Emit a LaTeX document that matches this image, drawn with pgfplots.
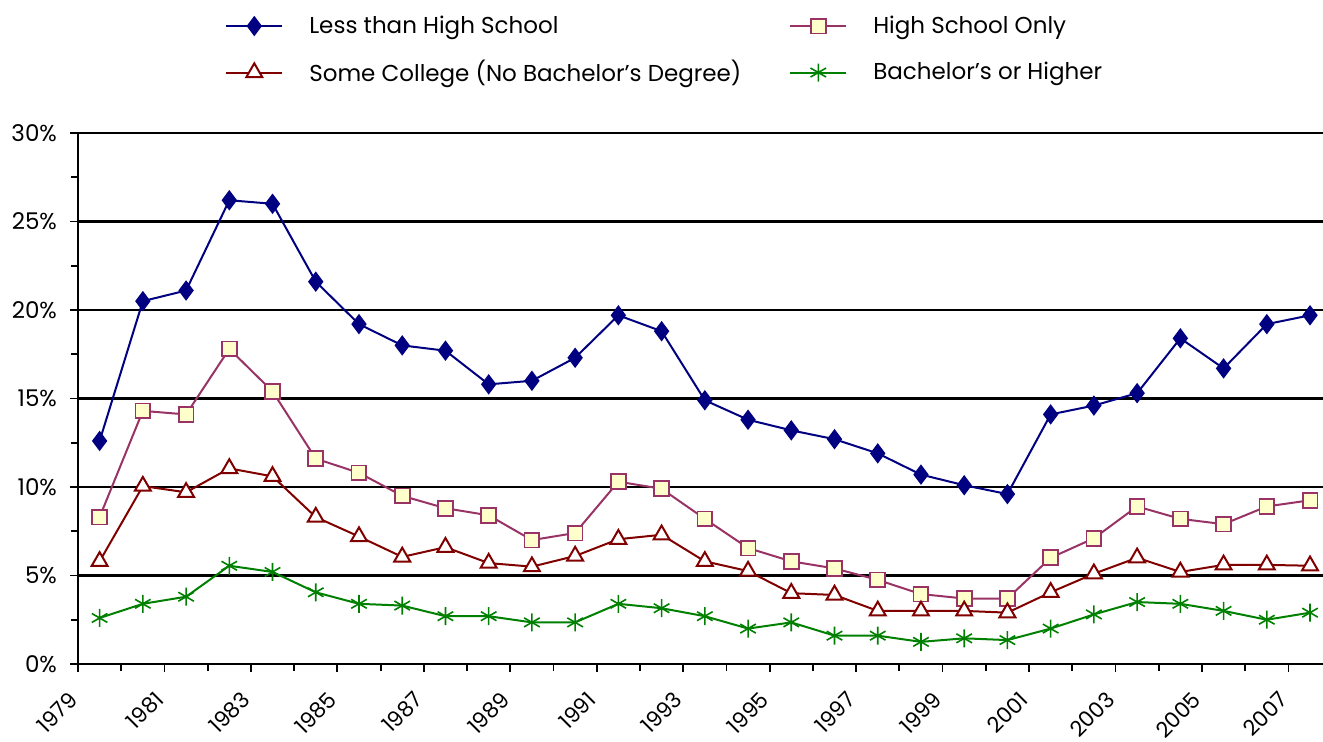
\documentclass[border=0pt]{standalone}
\usepackage{fontspec}
\setmainfont{Poppins}
\usepackage{pgfplots}
\usepackage{pgfplotstable}
\pgfplotsset{compat=1.18}
\definecolor{cblue}{HTML}{000080}
\definecolor{cpink}{HTML}{993366}
\definecolor{cfill}{HTML}{FFFFCC}
\definecolor{cred}{HTML}{800000}
\definecolor{cgreen}{HTML}{008000}

\pgfplotstableread{
x    lths hs   sc    ba
0.5  12.6 8.3  5.8   2.6
1.5  20.5 14.3 10.05 3.4
2.5  21.1 14.1 9.7   3.8
3.5  26.2 17.8 11.05 5.55
4.5  26.0 15.4 10.6  5.2
5.5  21.6 11.6 8.3   4.05
6.5  19.2 10.8 7.2   3.4
7.5  18.0 9.5  6.05  3.3
8.5  17.7 8.8  6.6   2.7
9.5  15.8 8.4  5.7   2.7
10.5 16.0 7.0  5.5   2.35
11.5 17.3 7.4  6.1   2.35
12.5 19.7 10.3 7.05  3.4
13.5 18.8 9.9  7.3   3.15
14.5 14.9 8.2  5.8   2.7
15.5 13.8 6.55 5.25  2.0
16.5 13.2 5.8  4.0   2.35
17.5 12.7 5.4  3.9   1.6
18.5 11.9 4.75 3.0   1.6
19.5 10.7 3.95 3.0   1.25
20.5 10.1 3.7  3.0   1.45
21.5 9.6  3.7  2.9   1.35
22.5 14.1 6.0  4.05  2.0
23.5 14.6 7.1  5.1   2.8
24.5 15.3 8.9  6.0   3.5
25.5 18.4 8.2  5.2   3.4
26.5 16.7 7.9  5.6   3.0
27.5 19.2 8.9  5.6   2.5
28.5 19.7 9.25 5.55  2.9
}\datatable

\begin{document}
\begin{tikzpicture}
\path[use as bounding box] (0,0) rectangle (661.5pt,371pt);
\begin{axis}[
  at={(39pt,39pt)}, anchor=south west,
  scale only axis, width=622.5pt, height=265.5pt,
  xmin=0, xmax=28.8, ymin=0, ymax=30,
  axis lines*=left,
  axis line style={line width=1.4pt},
  xtick={0,2,...,28},
  xticklabels={1979,1981,1983,1985,1987,1989,1991,1993,1995,1997,1999,2001,2003,2005,2007},
  minor xtick={1,3,...,27},
  ytick={0,5,...,30},
  minor ytick={2.5,7.5,...,27.5},
  yticklabel={\pgfmathprintnumber{\tick}\%},
  /pgf/number format/assume math mode=true,
  ymajorgrids,
  major grid style={black, line width=1.1pt},
  tick align=outside,
  major tick length=4pt, minor tick length=3.6pt,
  tick style={black, line width=0.9pt},
  ticklabel style={font=\fontsize{11.5}{13}\selectfont},
  yticklabel style={xshift=-3pt},
  xticklabel style={font=\fontsize{10.8}{12}\selectfont, yshift=-9.5pt, rotate=45, anchor=east},
  clip=false,
  legend columns=2,
  legend cell align=left,
  legend style={at={(0.118,1.229)}, anchor=north west, draw=none, fill=none,
    font=\fontsize{11.5}{14}\selectfont, inner sep=0pt, row sep=8pt,
    /tikz/every odd column/.append style={column sep=11pt}},
  legend image code/.code={\draw[mark repeat=2,mark phase=2,#1] plot coordinates {(0pt,0pt) (14pt,0pt) (28pt,0pt)};},
]
\addplot[cblue, line width=1pt, mark=diamond*, mark size=4.3pt, mark options={fill=cblue, solid}] table[x=x,y=lths] {\datatable};
\addlegendentry{\makebox[238pt][l]{Less than High School}}
\addplot[cpink, line width=1pt, mark=square*, mark size=3.7pt, mark options={fill=cfill, line width=0.9pt, solid}] table[x=x,y=hs] {\datatable};
\addlegendentry{High School Only}
\addplot[cred, line width=1pt, mark=triangle*, mark size=4.6pt, mark options={fill=white, line width=1pt, solid}] table[x=x,y=sc] {\datatable};
\addlegendentry{\makebox[238pt][l]{Some College (No Bachelor’s Degree)}}
\addplot[cgreen, line width=1pt, mark=asterisk, mark size=4.5pt, mark options={line width=0.8pt, solid}] table[x=x,y=ba] {\datatable};
\addlegendentry{Bachelor’s or Higher}
\end{axis}
\end{tikzpicture}
\end{document}
